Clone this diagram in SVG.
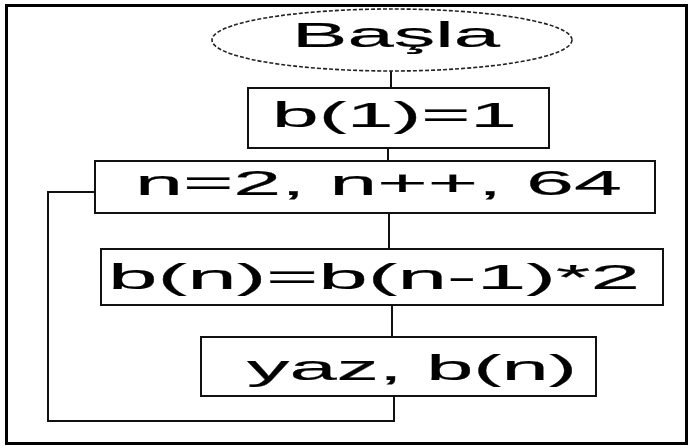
<svg xmlns="http://www.w3.org/2000/svg" width="691" height="448" viewBox="0 0 691 448">
<style>
.box{fill:#fff;stroke:#111;stroke-width:2}
.term{fill:#fff;stroke:#222;stroke-width:1.6;stroke-dasharray:4 2}
.lbl{font-family:"Liberation Sans",Arial,sans-serif;font-size:35px;fill:#000;stroke:#000;stroke-width:0.2}
.conn{fill:none;stroke:#111;stroke-width:2}
</style>
<rect x="0" y="0" width="691" height="448" fill="#fff"/>
<rect x="6.5" y="5.5" width="680" height="438" fill="none" stroke="#000" stroke-width="3"/>
<g id="connectors">
<line class="conn" x1="391" y1="71" x2="391" y2="88"/>
<line class="conn" x1="388" y1="148" x2="388" y2="161"/>
<line class="conn" x1="389" y1="213" x2="389" y2="249"/>
<line class="conn" x1="392" y1="305" x2="392" y2="337"/>
<path class="conn" d="M394 396 V421 H48 V192 H95"/>
</g>
<g id="start">
<ellipse class="term" cx="392" cy="40" rx="180" ry="31"/>
<text class="lbl" x="292" y="47" textLength="208" lengthAdjust="spacingAndGlyphs">Başla</text>
</g>
<g id="init">
<rect class="box" x="248" y="88" width="301" height="60"/>
<text class="lbl" x="272" y="127" textLength="245" lengthAdjust="spacingAndGlyphs">b(1)=1</text>
</g>
<g id="loop">
<rect class="box" x="95" y="161" width="560" height="52"/>
<text class="lbl" x="135" y="195" textLength="487" lengthAdjust="spacingAndGlyphs">n=2, n++, 64</text>
</g>
<g id="calc">
<rect class="box" x="101" y="249" width="562" height="56"/>
<text class="lbl" x="108" y="289" textLength="532" lengthAdjust="spacingAndGlyphs">b(n)=b(n-1)*2</text>
</g>
<g id="print">
<rect class="box" x="201" y="337" width="395" height="59"/>
<text class="lbl" x="247" y="380" textLength="330" lengthAdjust="spacingAndGlyphs">yaz, b(n)</text>
</g>
</svg>
